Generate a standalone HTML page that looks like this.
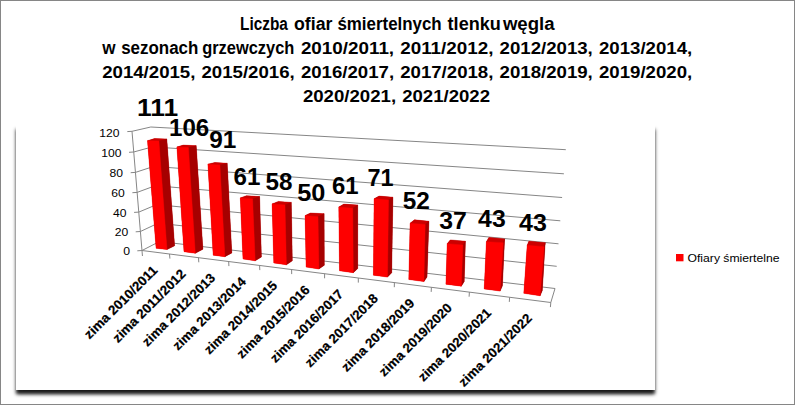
<!DOCTYPE html>
<html><head><meta charset="utf-8"><title>Chart</title>
<style>
html,body{margin:0;padding:0;background:#fff;}
body{width:795px;height:405px;overflow:hidden;position:relative;font-family:"Liberation Sans",sans-serif;}
#frame{position:absolute;left:0;top:0;width:793px;height:403px;border:1px solid #868686;background:#fff;}
#plot{position:absolute;left:16px;top:124px;width:638.8px;height:266px;background:#fff;box-shadow:0 4.8px 3.4px rgba(0,0,0,0.86),0 5.5px 4px -2px rgba(0,0,0,0.3);}
svg{position:absolute;left:0;top:0;}
text{font-family:"Liberation Sans",sans-serif;fill:#000;}
.dl{font-size:23px;font-weight:bold;}
.yl{font-size:11px;}
.cl{font-size:13.2px;font-weight:bold;stroke:#000;stroke-width:0.2px;}
.lg{font-size:11.5px;}
.ti{font-size:17px;font-weight:bold;}
.tw{font-size:17.5px;}
</style></head><body>
<div id="frame"></div>
<div id="plot"></div>
<svg width="795" height="405" viewBox="0 0 795 405">
<polyline points="127.3,131.6 132.0,131.3 150.8,127.0 565.8,149.7" fill="none" stroke="#868686" stroke-width="1"/>
<polyline points="129.0,152.3 133.7,152.0 152.3,146.9 563.9,173.8" fill="none" stroke="#868686" stroke-width="1"/>
<polyline points="130.7,172.7 135.4,172.4 153.8,166.4 562.1,197.5" fill="none" stroke="#868686" stroke-width="1"/>
<polyline points="132.4,192.7 137.1,192.4 155.3,185.7 560.3,220.8" fill="none" stroke="#868686" stroke-width="1"/>
<polyline points="134.1,212.4 138.8,212.1 156.7,204.6 558.5,243.8" fill="none" stroke="#868686" stroke-width="1"/>
<polyline points="135.7,231.8 140.4,231.5 158.1,223.2 556.7,266.3" fill="none" stroke="#868686" stroke-width="1"/>
<polyline points="137.3,250.8 142.0,250.5 159.5,241.5 555.0,288.5" fill="none" stroke="#868686" stroke-width="1"/>
<line x1="132.0" y1="131.3" x2="142.45" y2="256.0" stroke="#868686" stroke-width="1"/>
<polyline points="142.0,250.5 550.8,302.5 555.0,288.5" fill="none" stroke="#868686" stroke-width="1"/>
<line x1="169.5" y1="254.0" x2="169.9" y2="258.6" stroke="#868686" stroke-width="1"/>
<line x1="198.5" y1="257.7" x2="198.8" y2="262.3" stroke="#868686" stroke-width="1"/>
<line x1="228.7" y1="261.5" x2="228.9" y2="266.1" stroke="#868686" stroke-width="1"/>
<line x1="259.6" y1="265.5" x2="259.8" y2="270.1" stroke="#868686" stroke-width="1"/>
<line x1="291.6" y1="269.5" x2="291.7" y2="274.1" stroke="#868686" stroke-width="1"/>
<line x1="324.6" y1="273.7" x2="324.6" y2="278.3" stroke="#868686" stroke-width="1"/>
<line x1="358.3" y1="278.0" x2="358.3" y2="282.6" stroke="#868686" stroke-width="1"/>
<line x1="394.4" y1="282.6" x2="394.3" y2="287.2" stroke="#868686" stroke-width="1"/>
<line x1="431.4" y1="287.3" x2="431.2" y2="291.9" stroke="#868686" stroke-width="1"/>
<line x1="469.4" y1="292.1" x2="469.1" y2="296.7" stroke="#868686" stroke-width="1"/>
<line x1="509.6" y1="297.3" x2="509.3" y2="301.9" stroke="#868686" stroke-width="1"/>
<line x1="550.8" y1="302.5" x2="550.4" y2="307.1" stroke="#868686" stroke-width="1"/>
<polygon points="147.5,140.7 154.5,138.6 166.8,139.1 174.6,245.8 167.0,249.5 156.1,248.3" fill="#B80000"/>
<polygon points="147.5,140.7 154.5,138.6 166.8,139.1 158.9,141.1" fill="#CC0000" stroke="#CC0000" stroke-width="0.4"/>
<polygon points="158.9,141.1 166.8,139.1 174.6,245.8 167.0,249.5" fill="#A60000" stroke="#A60000" stroke-width="0.4"/>
<polygon points="147.5,140.7 158.9,141.1 167.0,249.5 156.1,248.3" fill="#FE0000" stroke="#FE0000" stroke-width="0.4"/>
<polygon points="176.9,147.0 183.4,145.1 196.2,145.7 202.9,249.2 195.3,253.3 184.0,251.7" fill="#B80000"/>
<polygon points="176.9,147.0 183.4,145.1 196.2,145.7 188.4,147.6" fill="#CC0000" stroke="#CC0000" stroke-width="0.4"/>
<polygon points="188.4,147.6 196.2,145.7 202.9,249.2 195.3,253.3" fill="#A60000" stroke="#A60000" stroke-width="0.4"/>
<polygon points="176.9,147.0 188.4,147.6 195.3,253.3 184.0,251.7" fill="#FE0000" stroke="#FE0000" stroke-width="0.4"/>
<polygon points="207.9,164.2 214.8,162.5 227.2,163.3 231.8,252.9 224.9,256.7 213.2,255.2" fill="#B80000"/>
<polygon points="207.9,164.2 214.8,162.5 227.2,163.3 219.9,165.0" fill="#CC0000" stroke="#CC0000" stroke-width="0.4"/>
<polygon points="219.9,165.0 227.2,163.3 231.8,252.9 224.9,256.7" fill="#A60000" stroke="#A60000" stroke-width="0.4"/>
<polygon points="207.9,164.2 219.9,165.0 224.9,256.7 213.2,255.2" fill="#FE0000" stroke="#FE0000" stroke-width="0.4"/>
<polygon points="240.3,197.9 246.4,195.7 259.6,196.6 261.4,257.0 255.2,260.8 243.0,258.9" fill="#B80000"/>
<polygon points="240.3,197.9 246.4,195.7 259.6,196.6 252.6,198.9" fill="#CC0000" stroke="#CC0000" stroke-width="0.4"/>
<polygon points="252.6,198.9 259.6,196.6 261.4,257.0 255.2,260.8" fill="#A60000" stroke="#A60000" stroke-width="0.4"/>
<polygon points="240.3,197.9 252.6,198.9 255.2,260.8 243.0,258.9" fill="#FE0000" stroke="#FE0000" stroke-width="0.4"/>
<polygon points="272.1,203.9 278.4,201.4 291.3,202.4 292.3,260.8 286.4,264.8 273.8,262.9" fill="#B80000"/>
<polygon points="272.1,203.9 278.4,201.4 291.3,202.4 285.0,204.9" fill="#CC0000" stroke="#CC0000" stroke-width="0.4"/>
<polygon points="285.0,204.9 291.3,202.4 292.3,260.8 286.4,264.8" fill="#A60000" stroke="#A60000" stroke-width="0.4"/>
<polygon points="272.1,203.9 285.0,204.9 286.4,264.8 273.8,262.9" fill="#FE0000" stroke="#FE0000" stroke-width="0.4"/>
<polygon points="305.1,215.6 310.5,213.0 324.1,213.7 324.3,265.2 318.9,269.0 306.1,267.1" fill="#B80000"/>
<polygon points="305.1,215.6 310.5,213.0 324.1,213.7 318.0,216.7" fill="#CC0000" stroke="#CC0000" stroke-width="0.4"/>
<polygon points="318.0,216.7 324.1,213.7 324.3,265.2 318.9,269.0" fill="#A60000" stroke="#A60000" stroke-width="0.4"/>
<polygon points="305.1,215.6 318.0,216.7 318.9,269.0 306.1,267.1" fill="#FE0000" stroke="#FE0000" stroke-width="0.4"/>
<polygon points="338.8,207.0 343.9,204.1 357.7,205.1 357.7,268.6 353.3,272.7 339.5,270.8" fill="#B80000"/>
<polygon points="338.8,207.0 343.9,204.1 357.7,205.1 352.7,208.3" fill="#CC0000" stroke="#CC0000" stroke-width="0.4"/>
<polygon points="352.7,208.3 357.7,205.1 357.7,268.6 353.3,272.7" fill="#A60000" stroke="#A60000" stroke-width="0.4"/>
<polygon points="338.8,207.0 352.7,208.3 353.3,272.7 339.5,270.8" fill="#FE0000" stroke="#FE0000" stroke-width="0.4"/>
<polygon points="374.1,198.8 379.1,196.1 392.9,197.2 391.7,272.7 387.5,277.1 373.4,275.2" fill="#B80000"/>
<polygon points="374.1,198.8 379.1,196.1 392.9,197.2 388.5,200.1" fill="#CC0000" stroke="#CC0000" stroke-width="0.4"/>
<polygon points="388.5,200.1 392.9,197.2 391.7,272.7 387.5,277.1" fill="#A60000" stroke="#A60000" stroke-width="0.4"/>
<polygon points="374.1,198.8 388.5,200.1 387.5,277.1 373.4,275.2" fill="#FE0000" stroke="#FE0000" stroke-width="0.4"/>
<polygon points="410.1,223.2 414.5,219.8 428.9,221.3 427.0,277.0 423.9,281.6 408.8,279.5" fill="#B80000"/>
<polygon points="410.1,223.2 414.5,219.8 428.9,221.3 425.2,224.5" fill="#CC0000" stroke="#CC0000" stroke-width="0.4"/>
<polygon points="425.2,224.5 428.9,221.3 427.0,277.0 423.9,281.6" fill="#A60000" stroke="#A60000" stroke-width="0.4"/>
<polygon points="410.1,223.2 425.2,224.5 423.9,281.6 408.8,279.5" fill="#FE0000" stroke="#FE0000" stroke-width="0.4"/>
<polygon points="447.2,243.7 450.3,239.9 465.4,241.2 464.2,281.4 461.3,286.2 445.9,284.2" fill="#B80000"/>
<polygon points="447.2,243.7 450.3,239.9 465.4,241.2 462.9,245.0" fill="#CC0000" stroke="#CC0000" stroke-width="0.4"/>
<polygon points="462.9,245.0 465.4,241.2 464.2,281.4 461.3,286.2" fill="#A60000" stroke="#A60000" stroke-width="0.4"/>
<polygon points="447.2,243.7 462.9,245.0 461.3,286.2 445.9,284.2" fill="#FE0000" stroke="#FE0000" stroke-width="0.4"/>
<polygon points="486.4,241.7 488.9,237.4 504.6,238.9 502.4,285.7 500.1,291.1 484.2,288.9" fill="#B80000"/>
<polygon points="486.4,241.7 488.9,237.4 504.6,238.9 503.3,242.7" fill="#CC0000" stroke="#CC0000" stroke-width="0.4"/>
<polygon points="503.3,242.7 504.6,238.9 502.4,285.7 500.1,291.1" fill="#A60000" stroke="#A60000" stroke-width="0.4"/>
<polygon points="486.4,241.7 503.3,242.7 500.1,291.1 484.2,288.9" fill="#FE0000" stroke="#FE0000" stroke-width="0.4"/>
<polygon points="527.2,245.2 528.9,241.2 545.2,242.7 542.3,290.4 540.1,295.8 523.8,293.3" fill="#B80000"/>
<polygon points="527.2,245.2 528.9,241.2 545.2,242.7 544.2,246.7" fill="#CC0000" stroke="#CC0000" stroke-width="0.4"/>
<polygon points="544.2,246.7 545.2,242.7 542.3,290.4 540.1,295.8" fill="#A60000" stroke="#A60000" stroke-width="0.4"/>
<polygon points="527.2,245.2 544.2,246.7 540.1,295.8 523.8,293.3" fill="#FE0000" stroke="#FE0000" stroke-width="0.4"/>
<text x="137.0" y="116.2" class="dl" textLength="41.1" lengthAdjust="spacingAndGlyphs">111</text>
<text x="169.0" y="135.7" class="dl" textLength="40.3" lengthAdjust="spacingAndGlyphs">106</text>
<text x="209.3" y="147.9" class="dl" textLength="27.1" lengthAdjust="spacingAndGlyphs">91</text>
<text x="233.5" y="184.7" class="dl" textLength="26.9" lengthAdjust="spacingAndGlyphs">61</text>
<text x="265.6" y="189.9" class="dl" textLength="27.0" lengthAdjust="spacingAndGlyphs">58</text>
<text x="297.2" y="201.0" class="dl" textLength="28.2" lengthAdjust="spacingAndGlyphs">50</text>
<text x="332.0" y="193.9" class="dl" textLength="26.6" lengthAdjust="spacingAndGlyphs">61</text>
<text x="367.5" y="185.8" class="dl" textLength="26.1" lengthAdjust="spacingAndGlyphs">71</text>
<text x="402.7" y="209.3" class="dl" textLength="27.1" lengthAdjust="spacingAndGlyphs">52</text>
<text x="439.3" y="229.0" class="dl" textLength="27.6" lengthAdjust="spacingAndGlyphs">37</text>
<text x="478.1" y="226.8" class="dl" textLength="27.6" lengthAdjust="spacingAndGlyphs">43</text>
<text x="519.1" y="231.4" class="dl" textLength="27.8" lengthAdjust="spacingAndGlyphs">43</text>
<text x="99.3" y="137.0" class="yl" textLength="20.2" lengthAdjust="spacingAndGlyphs">120</text>
<text x="101.2" y="156.9" class="yl" textLength="20.2" lengthAdjust="spacingAndGlyphs">100</text>
<text x="109.6" y="176.8" class="yl" textLength="13.5" lengthAdjust="spacingAndGlyphs">80</text>
<text x="111.3" y="196.8" class="yl" textLength="13.5" lengthAdjust="spacingAndGlyphs">60</text>
<text x="113.0" y="216.6" class="yl" textLength="13.5" lengthAdjust="spacingAndGlyphs">40</text>
<text x="114.7" y="235.9" class="yl" textLength="13.5" lengthAdjust="spacingAndGlyphs">20</text>
<text x="123.2" y="254.8" class="yl" textLength="6.8" lengthAdjust="spacingAndGlyphs">0</text>
<text transform="translate(158.2,271.2) rotate(-45)" x="-97" y="0" class="cl" textLength="97" lengthAdjust="spacingAndGlyphs">zima 2010/2011</text>
<text transform="translate(186.5,274.8) rotate(-45)" x="-97" y="0" class="cl" textLength="97" lengthAdjust="spacingAndGlyphs">zima 2011/2012</text>
<text transform="translate(216.1,278.6) rotate(-45)" x="-97" y="0" class="cl" textLength="97" lengthAdjust="spacingAndGlyphs">zima 2012/2013</text>
<text transform="translate(246.7,282.5) rotate(-45)" x="-97" y="0" class="cl" textLength="97" lengthAdjust="spacingAndGlyphs">zima 2013/2014</text>
<text transform="translate(278.1,286.5) rotate(-45)" x="-97" y="0" class="cl" textLength="97" lengthAdjust="spacingAndGlyphs">zima 2014/2015</text>
<text transform="translate(310.6,290.6) rotate(-45)" x="-97" y="0" class="cl" textLength="97" lengthAdjust="spacingAndGlyphs">zima 2015/2016</text>
<text transform="translate(344.0,294.9) rotate(-45)" x="-97" y="0" class="cl" textLength="97" lengthAdjust="spacingAndGlyphs">zima 2016/2017</text>
<text transform="translate(378.9,299.3) rotate(-45)" x="-97" y="0" class="cl" textLength="97" lengthAdjust="spacingAndGlyphs">zima 2017/2018</text>
<text transform="translate(415.4,304.0) rotate(-45)" x="-97" y="0" class="cl" textLength="97" lengthAdjust="spacingAndGlyphs">zima 2018/2019</text>
<text transform="translate(452.9,308.7) rotate(-45)" x="-97" y="0" class="cl" textLength="97" lengthAdjust="spacingAndGlyphs">zima 2019/2020</text>
<text transform="translate(492.0,313.7) rotate(-45)" x="-97" y="0" class="cl" textLength="97" lengthAdjust="spacingAndGlyphs">zima 2020/2021</text>
<text transform="translate(532.7,318.9) rotate(-45)" x="-97" y="0" class="cl" textLength="97" lengthAdjust="spacingAndGlyphs">zima 2021/2022</text>
<rect x="676" y="254" width="7.5" height="7.3" fill="#FE0000"/>
<text x="687.5" y="261.8" class="lg" textLength="92" lengthAdjust="spacingAndGlyphs">Ofiary śmiertelne</text>
<text x="240.0" y="29.7" class="ti tw" textLength="47.9" lengthAdjust="spacingAndGlyphs">Liczba</text>
<text x="294.0" y="29.7" class="ti tw" textLength="38.4" lengthAdjust="spacingAndGlyphs">ofiar</text>
<text x="337.4" y="29.7" class="ti tw" textLength="104.3" lengthAdjust="spacingAndGlyphs">śmiertelnych</text>
<text x="447.6" y="29.7" class="ti tw" textLength="53.2" lengthAdjust="spacingAndGlyphs">tlenku</text>
<text x="502.9" y="29.7" class="ti tw" textLength="51.7" lengthAdjust="spacingAndGlyphs">węgla</text>
<text x="102.2" y="53.9" class="ti tw" textLength="13.3" lengthAdjust="spacingAndGlyphs">w</text>
<text x="121.2" y="53.9" class="ti tw" textLength="77.2" lengthAdjust="spacingAndGlyphs">sezonach</text>
<text x="202.2" y="53.9" class="ti tw" textLength="92.2" lengthAdjust="spacingAndGlyphs">grzewczych</text>
<text x="300.9" y="53.9" class="ti" textLength="93.2" lengthAdjust="spacingAndGlyphs">2010/2011,</text>
<text x="400.2" y="53.9" class="ti" textLength="93.2" lengthAdjust="spacingAndGlyphs">2011/2012,</text>
<text x="499.6" y="53.9" class="ti" textLength="93.2" lengthAdjust="spacingAndGlyphs">2012/2013,</text>
<text x="599.0" y="53.9" class="ti" textLength="93.2" lengthAdjust="spacingAndGlyphs">2013/2014,</text>
<text x="102.2" y="78.0" class="ti" textLength="93.2" lengthAdjust="spacingAndGlyphs">2014/2015,</text>
<text x="201.5" y="78.0" class="ti" textLength="93.2" lengthAdjust="spacingAndGlyphs">2015/2016,</text>
<text x="300.9" y="78.0" class="ti" textLength="93.2" lengthAdjust="spacingAndGlyphs">2016/2017,</text>
<text x="400.2" y="78.0" class="ti" textLength="93.2" lengthAdjust="spacingAndGlyphs">2017/2018,</text>
<text x="499.6" y="78.0" class="ti" textLength="93.2" lengthAdjust="spacingAndGlyphs">2018/2019,</text>
<text x="599.0" y="78.0" class="ti" textLength="93.2" lengthAdjust="spacingAndGlyphs">2019/2020,</text>
<text x="302.9" y="102.4" class="ti" textLength="93.2" lengthAdjust="spacingAndGlyphs">2020/2021,</text>
<text x="402.2" y="102.4" class="ti" textLength="87.8" lengthAdjust="spacingAndGlyphs">2021/2022</text>
</svg>
</body></html>
